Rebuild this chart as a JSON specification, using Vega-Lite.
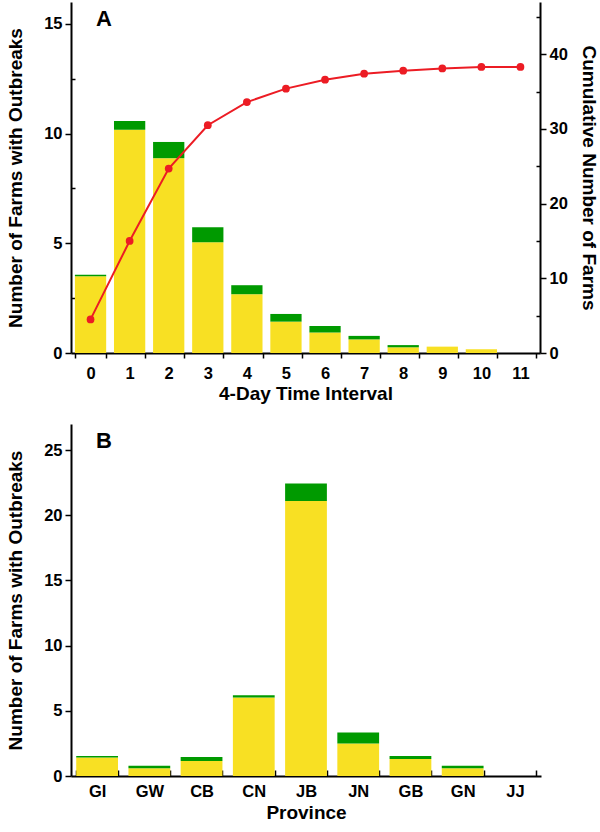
{
  "$schema": "https://vega.github.io/schema/vega-lite/v6.json",
  "background": "white",
  "padding": {"left": 6, "top": 2, "right": 1, "bottom": 2},
  "spacing": 20,
  "datasets": {
    "intervals": [
      {"interval": 0, "series": "S1", "farms": 3.5},
      {"interval": 0, "series": "S2", "farms": 0.07},
      {"interval": 1, "series": "S1", "farms": 10.18},
      {"interval": 1, "series": "S2", "farms": 0.4},
      {"interval": 2, "series": "S1", "farms": 8.88},
      {"interval": 2, "series": "S2", "farms": 0.74},
      {"interval": 3, "series": "S1", "farms": 5.05},
      {"interval": 3, "series": "S2", "farms": 0.68},
      {"interval": 4, "series": "S1", "farms": 2.68},
      {"interval": 4, "series": "S2", "farms": 0.41},
      {"interval": 5, "series": "S1", "farms": 1.43},
      {"interval": 5, "series": "S2", "farms": 0.35},
      {"interval": 6, "series": "S1", "farms": 0.93},
      {"interval": 6, "series": "S2", "farms": 0.3},
      {"interval": 7, "series": "S1", "farms": 0.62},
      {"interval": 7, "series": "S2", "farms": 0.16},
      {"interval": 8, "series": "S1", "farms": 0.26},
      {"interval": 8, "series": "S2", "farms": 0.1},
      {"interval": 9, "series": "S1", "farms": 0.29},
      {"interval": 9, "series": "S2", "farms": 0},
      {"interval": 10, "series": "S1", "farms": 0.17},
      {"interval": 10, "series": "S2", "farms": 0},
      {"interval": 11, "series": "S1", "farms": 0},
      {"interval": 11, "series": "S2", "farms": 0}
    ],
    "cumulative": [
      {"interval": 0, "total": 4.5},
      {"interval": 1, "total": 15.0},
      {"interval": 2, "total": 24.7},
      {"interval": 3, "total": 30.5},
      {"interval": 4, "total": 33.6},
      {"interval": 5, "total": 35.4},
      {"interval": 6, "total": 36.6},
      {"interval": 7, "total": 37.4},
      {"interval": 8, "total": 37.8},
      {"interval": 9, "total": 38.1},
      {"interval": 10, "total": 38.3},
      {"interval": 11, "total": 38.3}
    ],
    "provinces": [
      {"province": "GI", "series": "S1", "farms": 1.41},
      {"province": "GI", "series": "S2", "farms": 0.13},
      {"province": "GW", "series": "S1", "farms": 0.59},
      {"province": "GW", "series": "S2", "farms": 0.2},
      {"province": "CB", "series": "S1", "farms": 1.15},
      {"province": "CB", "series": "S2", "farms": 0.31},
      {"province": "CN", "series": "S1", "farms": 6.02},
      {"province": "CN", "series": "S2", "farms": 0.18},
      {"province": "JB", "series": "S1", "farms": 21.09},
      {"province": "JB", "series": "S2", "farms": 1.35},
      {"province": "JN", "series": "S1", "farms": 2.49},
      {"province": "JN", "series": "S2", "farms": 0.84},
      {"province": "GB", "series": "S1", "farms": 1.31},
      {"province": "GB", "series": "S2", "farms": 0.23},
      {"province": "GN", "series": "S1", "farms": 0.59},
      {"province": "GN", "series": "S2", "farms": 0.2},
      {"province": "JJ", "series": "S1", "farms": 0},
      {"province": "JJ", "series": "S2", "farms": 0}
    ]
  },
  "vconcat": [
    {
      "width": 469,
      "height": 351,
      "title": {"text": "A", "frame": "group", "anchor": "start", "orient": "top", "offset": -29, "dx": 25, "fontSize": 22, "fontWeight": "bold", "font": "Liberation Sans", "color": "black"},
      "layer": [
        {
          "data": {"name": "intervals"},
          "mark": {"type": "bar"},
          "encoding": {
            "x": {
              "field": "interval",
              "type": "ordinal",
              "scale": {"paddingInner": 0.2, "paddingOuter": 0.1},
              "axis": {
                "title": "4-Day Time Interval",
                "labelAngle": 0,
                "tickBand": "extent",
                "tickSize": 5,
                "labelPadding": 7,
                "titlePadding": 3
              }
            },
            "y": {
              "field": "farms",
              "type": "quantitative",
              "stack": "zero",
              "scale": {"domain": [0, 16], "nice": false},
              "axis": {
                "title": "Number of Farms with Outbreaks",
                "values": [0, 2.5, 5, 7.5, 10, 12.5, 15],
                "labelExpr": "datum.value % 5 === 0 ? datum.label : ''",
                "tickSize": {"condition": {"test": "datum.value % 5 === 0", "value": 6}, "value": -4},
                "titlePadding": 18
              }
            },
            "color": {
              "field": "series",
              "type": "nominal",
              "scale": {"domain": ["S1", "S2"], "range": ["#f8e023", "#009a00"]},
              "legend": null
            },
            "order": {"field": "series", "sort": "ascending"}
          }
        },
        {
          "data": {"name": "cumulative"},
          "mark": {"type": "line", "color": "#ec1c24", "strokeWidth": 2, "point": {"filled": true, "size": 60, "color": "#ec1c24"}},
          "encoding": {
            "x": {"field": "interval", "type": "ordinal", "title": "4-Day Time Interval"},
            "y": {
              "field": "total",
              "type": "quantitative",
              "scale": {"domain": [0, 47], "nice": false},
              "axis": {
                "orient": "right",
                "title": "Cumulative  Number of Farms",
                "values": [0, 5, 10, 15, 20, 25, 30, 35, 40, 45],
                "labelExpr": "datum.value % 10 === 0 ? datum.label : ''",
                "tickSize": {"condition": {"test": "datum.value % 10 === 0", "value": 6}, "value": -4},
                "titlePadding": 11
              }
            }
          }
        }
      ],
      "resolve": {"scale": {"y": "independent"}}
    },
    {
      "width": 470,
      "height": 352,
      "title": {"text": "B", "frame": "group", "anchor": "start", "orient": "top", "offset": -29, "dx": 25, "fontSize": 22, "fontWeight": "bold", "font": "Liberation Sans", "color": "black"},
      "data": {"name": "provinces"},
      "mark": {"type": "bar"},
      "encoding": {
        "x": {
          "field": "province",
          "type": "nominal",
          "sort": ["GI", "GW", "CB", "CN", "JB", "JN", "GB", "GN", "JJ"],
          "scale": {"paddingInner": 0.2, "paddingOuter": 0.1},
          "axis": {
            "title": "Province",
            "labelAngle": 0,
            "tickBand": "extent",
            "tickSize": -6,
            "labelPadding": 13,
            "titlePadding": 4
          }
        },
        "y": {
          "field": "farms",
          "type": "quantitative",
          "stack": "zero",
          "scale": {"domain": [0, 27], "nice": false},
          "axis": {
            "title": "Number of Farms with Outbreaks",
            "values": [0, 5, 10, 15, 20, 25],
            "tickSize": 6,
            "titlePadding": 18
          }
        },
        "color": {
          "field": "series",
          "type": "nominal",
          "scale": {"domain": ["S1", "S2"], "range": ["#f8e023", "#009a00"]},
          "legend": null
        },
        "order": {"field": "series", "sort": "ascending"}
      }
    }
  ],
  "config": {
    "view": {"stroke": null},
    "axis": {
      "grid": false,
      "domainColor": "black",
      "domainWidth": 2,
      "tickColor": "black",
      "tickWidth": 1.5,
      "labelFont": "Liberation Sans",
      "labelFontWeight": "bold",
      "labelFontSize": 16.5,
      "labelColor": "black",
      "labelPadding": 3,
      "titleFont": "Liberation Sans",
      "titleFontWeight": "bold",
      "titleFontSize": 19,
      "titleColor": "black"
    }
  }
}
